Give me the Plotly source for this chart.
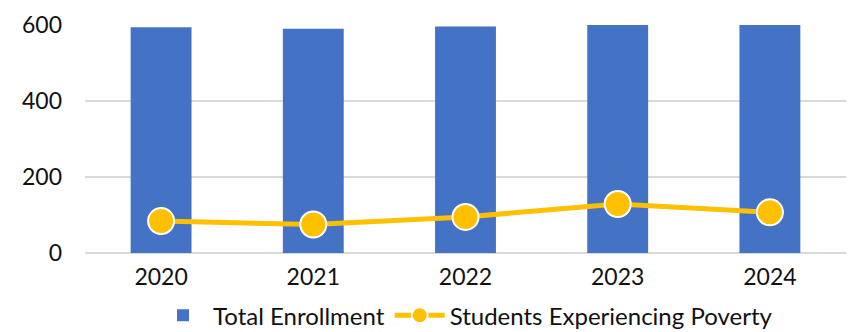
import plotly.graph_objects as go

years = ["2020", "2021", "2022", "2023", "2024"]
total_enrollment = [594, 590, 596, 603, 603]
poverty = [84, 75, 95, 129, 107]
y_ticks = [0, 200, 400, 600]

font_family = "Lato, Open Sans, sans-serif"

fig = go.Figure()
fig.add_trace(go.Bar(
    x=years, y=total_enrollment, name="Total Enrollment",
    marker=dict(color="#4472C4", line=dict(width=0)),
))
fig.add_trace(go.Scatter(
    x=years, y=poverty, name="Students Experiencing Poverty",
    mode="lines+markers",
    line=dict(color="#FFC000", width=5),
    marker=dict(size=26, color="#FFC000", line=dict(color="white", width=2)),
))

# page body has an 8px margin, so the figure is 8px smaller and margins shifted
fig.update_layout(
    width=848, height=324,
    margin=dict(l=77, r=10, t=17, b=79, autoexpand=False),
    paper_bgcolor="white", plot_bgcolor="white",
    bargap=0.6,
    font=dict(family=font_family, size=23, color="#111111"),
    showlegend=True,
    legend=dict(orientation="h", x=0.5, xanchor="center", y=-0.275, yanchor="middle",
                font=dict(size=24), itemwidth=50, tracegroupgap=0),
    xaxis=dict(showgrid=False, showline=False, ticks="", tickfont=dict(size=23),
               automargin=False, ticklabelstandoff=8),
    yaxis=dict(range=[0, 600], tickvals=y_ticks, showgrid=True, gridcolor="#D9D9D9",
               gridwidth=2, zeroline=True, zerolinecolor="#D9D9D9", zerolinewidth=2,
               showline=False, ticks="", tickfont=dict(size=23), ticklabelstandoff=22,
               automargin=False),
)

fig.write_html("out.html")
